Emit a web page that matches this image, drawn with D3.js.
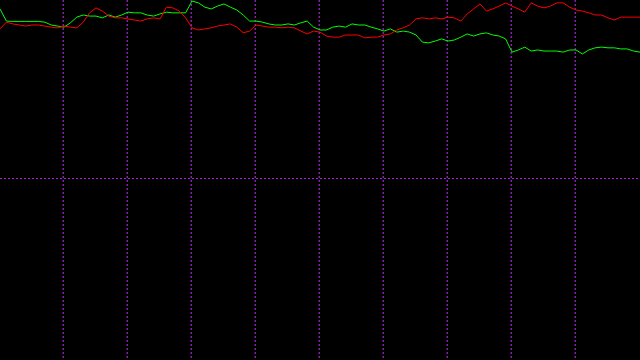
<!DOCTYPE html>
<html>
<head>
<meta charset="utf-8">
<script src="https://cdn.jsdelivr.net/npm/d3@7"></script>
<style>
html,body{margin:0;padding:0;background:#000;overflow:hidden;}
svg{display:block;}
</style>
</head>
<body>
<svg id="chart" width="640" height="360"></svg>
<script>
// Series values (index 0..100, evenly spaced)
const greenValues = [97.5,94.1,94.0,94.0,94.0,94.0,94.0,93.8,93.0,92.7,
  92.4,93.6,95.2,95.8,95.5,95.5,95.0,95.8,95.2,95.8,
  96.6,96.4,96.4,95.8,95.5,96.1,96.6,96.4,96.4,96.4,
  99.7,99.2,98.0,97.5,98.3,98.9,98.0,97.2,95.8,94.1,
  94.1,93.8,93.3,93.0,93.0,93.3,93.0,93.6,94.1,92.4,
  91.6,91.6,92.4,92.7,92.4,93.3,93.0,93.0,92.4,91.9,
  91.3,91.9,91.0,91.3,91.0,90.2,88.2,88.0,88.5,89.1,
  88.5,88.8,89.6,90.5,89.9,90.5,90.8,90.2,89.9,89.1,
  85.4,86.0,86.8,85.7,86.0,85.7,85.7,85.7,85.4,86.0,
  86.0,84.9,86.0,86.6,86.8,86.6,86.6,86.3,86.3,85.7,85.4];
const redValues = [91.9,93.8,93.3,93.0,92.7,93.0,93.0,92.7,92.4,92.2,
  92.7,92.4,92.2,93.8,96.4,97.8,96.9,95.5,95.0,95.0,
  94.7,94.4,94.1,94.7,95.0,94.7,98.0,97.8,96.9,95.0,
  92.2,91.6,91.9,92.2,92.7,93.0,93.3,92.4,90.8,91.3,
  93.0,92.7,92.4,92.4,92.2,92.4,92.2,91.3,90.5,91.3,
  91.0,89.9,89.6,89.6,90.2,90.2,90.2,89.4,89.6,89.6,
  90.2,90.5,91.6,92.2,93.0,94.7,95.0,94.7,95.0,94.7,
  95.2,95.0,94.1,96.1,97.5,98.9,96.9,97.5,98.3,99.2,
  98.3,97.5,96.6,99.2,98.3,97.8,98.3,99.2,99.2,98.0,
  97.2,96.9,96.4,95.8,95.8,95.0,94.4,95.2,95.2,95.2,95.2];
const xGridTicks = [1,2,3,4,5,6,7,8,9];
const yGridTicks = [50];

const W = 640, H = 360;
const svg = d3.select("#chart");
svg.append("rect").attr("width", W).attr("height", H).attr("fill", "#000");

const n = greenValues.length - 1;
const x = d3.scaleLinear().domain([0, n]).range([0, W]);
const xg = d3.scaleLinear().domain([0, 10]).range([0, W]);
const y = d3.scaleLinear().domain([0, 100]).range([357, 0]);

const grid = svg.append("g");
grid.selectAll(".vg").data(xGridTicks).enter().append("line")
  .attr("x1", d => xg(d) - 0.8).attr("x2", d => xg(d) - 0.8)
  .attr("y1", 0).attr("y2", H)
  .attr("stroke", "#c030f0").attr("stroke-width", 1).attr("stroke-dasharray", "2,2");
grid.selectAll(".hg").data(yGridTicks).enter().append("line")
  .attr("x1", 0).attr("x2", W)
  .attr("y1", d => Math.floor(y(d)) + 0.5).attr("y2", d => Math.floor(y(d)) + 0.5)
  .attr("stroke", "#b020d0").attr("stroke-width", 1).attr("stroke-dasharray", "2,2");

const line = d3.line().x((d, i) => x(i)).y(d => y(d));
svg.append("path").datum(greenValues).attr("d", line)
  .attr("fill", "none").attr("stroke", "#00ff00").attr("stroke-width", 1);
svg.append("path").datum(redValues).attr("d", line)
  .attr("fill", "none").attr("stroke", "#ff0000").attr("stroke-width", 1);
</script>
</body>
</html>
